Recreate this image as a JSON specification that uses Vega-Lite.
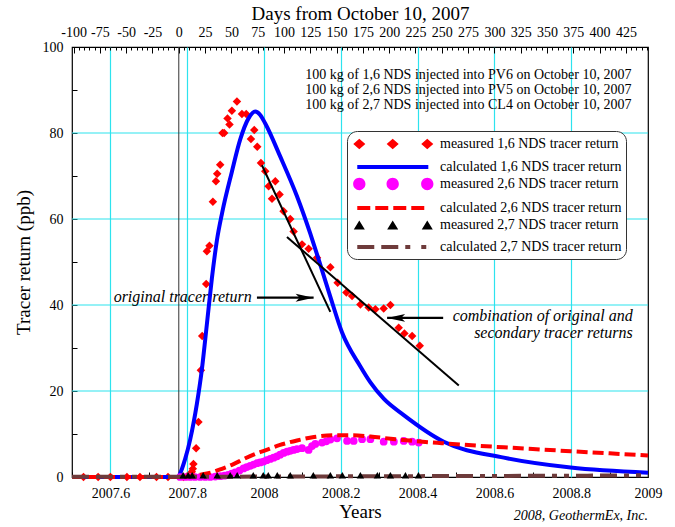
{
  "$schema": "https://vega.github.io/schema/vega-lite/v6.json",
  "width": 576,
  "height": 430,
  "autosize": {"type": "none"},
  "padding": {"left": 72, "top": 47, "right": 27, "bottom": 50},
  "background": "white",
  "config": {
    "font": "Liberation Serif",
    "view": {"stroke": "black", "strokeWidth": 1.2},
    "axis": {
      "labelFont": "Liberation Serif", "titleFont": "Liberation Serif",
      "labelFontSize": 14, "titleFontSize": 19, "titleFontWeight": "normal",
      "labelColor": "black", "titleColor": "black", "tickColor": "black",
      "domain": false, "gridColor": "#2de3ee", "gridWidth": 1.2, "gridOpacity": 1
    }
  },
  "title": {
    "text": "2008, GeothermEx, Inc.", "orient": "bottom", "anchor": "end", "frame": "group",
    "font": "Liberation Serif", "fontStyle": "italic", "fontWeight": "normal", "fontSize": 14,
    "color": "black", "offset": -12
  },
  "datasets": {
    "curves": [
      {"s":"m16","year":2007.53,"value":0},{"s":"m16","year":2007.568,"value":0},{"s":"m16","year":2007.6,"value":0},
      {"s":"m16","year":2007.643,"value":0},{"s":"m16","year":2007.677,"value":0},{"s":"m16","year":2007.72,"value":0},
      {"s":"m16","year":2007.75,"value":0},{"s":"m16","year":2007.79,"value":0},{"s":"m16","year":2007.8,"value":0.2},
      {"s":"m16","year":2007.8077,"value":0.3},{"s":"m16","year":2007.8121,"value":1.2},{"s":"m16","year":2007.8147,"value":1.9},
      {"s":"m16","year":2007.8163,"value":3.0},{"s":"m16","year":2007.8233,"value":6.7},{"s":"m16","year":2007.8293,"value":12.8},
      {"s":"m16","year":2007.8356,"value":24.8},{"s":"m16","year":2007.839,"value":32.8},{"s":"m16","year":2007.8494,"value":44.9},
      {"s":"m16","year":2007.8512,"value":52.5},{"s":"m16","year":2007.858,"value":53.8},{"s":"m16","year":2007.8669,"value":64.0},
      {"s":"m16","year":2007.8748,"value":68.8},{"s":"m16","year":2007.8781,"value":70.5},{"s":"m16","year":2007.8859,"value":72.6},
      {"s":"m16","year":2007.8919,"value":80.0},{"s":"m16","year":2007.8964,"value":80.0},{"s":"m16","year":2007.905,"value":83.4},
      {"s":"m16","year":2007.9102,"value":82.0},{"s":"m16","year":2007.9164,"value":85.2},{"s":"m16","year":2007.9295,"value":87.3},
      {"s":"m16","year":2007.9425,"value":84.4},{"s":"m16","year":2007.9537,"value":84.4},{"s":"m16","year":2007.966,"value":78.6},
      {"s":"m16","year":2007.9746,"value":80.7},{"s":"m16","year":2007.9824,"value":76.8},{"s":"m16","year":2007.9921,"value":73.0},
      {"s":"m16","year":2008.0033,"value":71.1},{"s":"m16","year":2008.012,"value":67.6},{"s":"m16","year":2008.0208,"value":64.7},
      {"s":"m16","year":2008.0294,"value":68.8},{"s":"m16","year":2008.0406,"value":65.7},{"s":"m16","year":2008.051,"value":61.8},
      {"s":"m16","year":2008.0684,"value":60.0},{"s":"m16","year":2008.0771,"value":57.1},{"s":"m16","year":2008.099,"value":54.1},
      {"s":"m16","year":2008.1162,"value":53.1},{"s":"m16","year":2008.1381,"value":51.0},{"s":"m16","year":2008.1728,"value":48.8},
      {"s":"m16","year":2008.1918,"value":45.2},{"s":"m16","year":2008.2145,"value":42.9},{"s":"m16","year":2008.2293,"value":42.1},
      {"s":"m16","year":2008.251,"value":40.1},{"s":"m16","year":2008.2726,"value":39.4},{"s":"m16","year":2008.2901,"value":39.0},
      {"s":"m16","year":2008.3117,"value":39.2},{"s":"m16","year":2008.3292,"value":40.0},{"s":"m16","year":2008.3508,"value":34.7},
      {"s":"m16","year":2008.3657,"value":33.4},{"s":"m16","year":2008.3858,"value":32.8},{"s":"m16","year":2008.4056,"value":30.5},

      {"s":"c16","year":2007.5,"value":0},{"s":"c16","year":2007.777,"value":0},{"s":"c16","year":2007.78,"value":0.5},
      {"s":"c16","year":2007.7947,"value":4.2},{"s":"c16","year":2007.8077,"value":8.7},{"s":"c16","year":2007.8252,"value":17},
      {"s":"c16","year":2007.8382,"value":25},{"s":"c16","year":2007.8512,"value":35.5},{"s":"c16","year":2007.8643,"value":46.2},
      {"s":"c16","year":2007.8773,"value":55},{"s":"c16","year":2007.8911,"value":61.5},{"s":"c16","year":2007.9164,"value":71},
      {"s":"c16","year":2007.9381,"value":78.5},{"s":"c16","year":2007.9597,"value":83.4},{"s":"c16","year":2007.9772,"value":85},
      {"s":"c16","year":2007.9902,"value":84.2},{"s":"c16","year":2008.0033,"value":82.2},{"s":"c16","year":2008.0424,"value":74.5},
      {"s":"c16","year":2008.0859,"value":65.3},{"s":"c16","year":2008.1206,"value":56.6},{"s":"c16","year":2008.1381,"value":51.8},
      {"s":"c16","year":2008.1553,"value":46.9},{"s":"c16","year":2008.1728,"value":41.9},{"s":"c16","year":2008.2033,"value":33.6},
      {"s":"c16","year":2008.251,"value":25.7},{"s":"c16","year":2008.2771,"value":22.0},{"s":"c16","year":2008.3117,"value":18.2},
      {"s":"c16","year":2008.3639,"value":14.4},{"s":"c16","year":2008.4682,"value":8.2},{"s":"c16","year":2008.6246,"value":4.5},
      {"s":"c16","year":2008.7986,"value":2.2},{"s":"c16","year":2009.0,"value":1.0},

      {"s":"m26","year":2007.7816,"value":0},{"s":"m26","year":2007.795,"value":0},{"s":"m26","year":2007.8077,"value":0},
      {"s":"m26","year":2007.82,"value":0},{"s":"m26","year":2007.8338,"value":0},{"s":"m26","year":2007.847,"value":0},
      {"s":"m26","year":2007.8598,"value":0},{"s":"m26","year":2007.873,"value":0.1},{"s":"m26","year":2007.8859,"value":0.2},
      {"s":"m26","year":2007.897,"value":0.3},{"s":"m26","year":2007.9068,"value":0.5},{"s":"m26","year":2007.916,"value":0.8},
      {"s":"m26","year":2007.925,"value":1.1},{"s":"m26","year":2007.936,"value":1.5},{"s":"m26","year":2007.9467,"value":2.0},
      {"s":"m26","year":2007.955,"value":2.3},{"s":"m26","year":2007.9641,"value":2.6},{"s":"m26","year":2007.973,"value":2.9},
      {"s":"m26","year":2007.9816,"value":3.2},{"s":"m26","year":2007.99,"value":3.4},{"s":"m26","year":2007.9988,"value":3.6},
      {"s":"m26","year":2008.007,"value":3.9},{"s":"m26","year":2008.0163,"value":4.2},{"s":"m26","year":2008.025,"value":4.5},
      {"s":"m26","year":2008.0338,"value":4.8},{"s":"m26","year":2008.042,"value":5.2},{"s":"m26","year":2008.051,"value":5.6},
      {"s":"m26","year":2008.06,"value":5.9},{"s":"m26","year":2008.0684,"value":6.1},{"s":"m26","year":2008.077,"value":6.3},
      {"s":"m26","year":2008.0859,"value":6.5},{"s":"m26","year":2008.099,"value":6.7},{"s":"m26","year":2008.1162,"value":6.3},
      {"s":"m26","year":2008.125,"value":7.2},{"s":"m26","year":2008.1336,"value":7.7},{"s":"m26","year":2008.1511,"value":8.0},
      {"s":"m26","year":2008.162,"value":8.3},{"s":"m26","year":2008.1728,"value":8.7},{"s":"m26","year":2008.1902,"value":9.0},
      {"s":"m26","year":2008.2163,"value":8.4},{"s":"m26","year":2008.2335,"value":8.4},{"s":"m26","year":2008.2554,"value":8.8},
      {"s":"m26","year":2008.2771,"value":8.8},{"s":"m26","year":2008.3117,"value":8.2},{"s":"m26","year":2008.3382,"value":8.2},
      {"s":"m26","year":2008.3639,"value":8.4},{"s":"m26","year":2008.3858,"value":8.2},{"s":"m26","year":2008.403,"value":8.0},

      {"s":"c26","year":2007.5,"value":0},{"s":"c26","year":2007.777,"value":0},{"s":"c26","year":2007.8,"value":0.1},
      {"s":"c26","year":2007.83,"value":0.5},{"s":"c26","year":2007.8684,"value":1.2},{"s":"c26","year":2007.89,"value":1.9},
      {"s":"c26","year":2007.9206,"value":3.0},{"s":"c26","year":2007.95,"value":4.3},{"s":"c26","year":2007.9728,"value":5.2},
      {"s":"c26","year":2008.0,"value":6.1},{"s":"c26","year":2008.04,"value":7.4},{"s":"c26","year":2008.0859,"value":8.5},
      {"s":"c26","year":2008.13,"value":9.3},{"s":"c26","year":2008.1813,"value":9.7},{"s":"c26","year":2008.23,"value":9.7},
      {"s":"c26","year":2008.2771,"value":9.4},{"s":"c26","year":2008.33,"value":8.9},{"s":"c26","year":2008.3988,"value":8.3},
      {"s":"c26","year":2008.451,"value":7.95},{"s":"c26","year":2008.52,"value":7.5},{"s":"c26","year":2008.6246,"value":6.9},
      {"s":"c26","year":2008.7,"value":6.5},{"s":"c26","year":2008.7986,"value":6.0},{"s":"c26","year":2008.9,"value":5.5},
      {"s":"c26","year":2009.0,"value":5.0},

      {"s":"m27","year":2007.7894,"value":0.4},{"s":"m27","year":2007.8025,"value":0.4},{"s":"m27","year":2007.8129,"value":0.4},
      {"s":"m27","year":2007.8416,"value":0.4},{"s":"m27","year":2007.8781,"value":0.4},{"s":"m27","year":2007.912,"value":0.4},
      {"s":"m27","year":2007.9302,"value":0.4},{"s":"m27","year":2007.972,"value":0.4},{"s":"m27","year":2007.998,"value":0.4},
      {"s":"m27","year":2008.0111,"value":0.4},{"s":"m27","year":2008.0346,"value":0.4},{"s":"m27","year":2008.0684,"value":0.4},
      {"s":"m27","year":2008.1284,"value":0.4},{"s":"m27","year":2008.1728,"value":0.4},{"s":"m27","year":2008.204,"value":0.4},
      {"s":"m27","year":2008.251,"value":0.4},{"s":"m27","year":2008.2953,"value":0.4},{"s":"m27","year":2008.3292,"value":0.4},
      {"s":"m27","year":2008.3683,"value":0.4},{"s":"m27","year":2008.4022,"value":0.4},

      {"s":"c27","year":2007.5,"value":0.05},{"s":"c27","year":2007.8,"value":0.05},{"s":"c27","year":2008.0,"value":0.1},
      {"s":"c27","year":2008.2,"value":0.15},{"s":"c27","year":2008.4,"value":0.2},{"s":"c27","year":2008.6,"value":0.25},
      {"s":"c27","year":2008.8,"value":0.3},{"s":"c27","year":2009.0,"value":0.4}
    ],
    "segs": [
      {"year": 2007.9946, "value": 72.5, "year2": 2008.1727, "value2": 38.4},
      {"year": 2008.0598, "value": 55.8, "year2": 2008.5073, "value2": 21.3}
    ],
    "arrows": [
      {"dir": "right", "year": 2007.9816, "year2": 2008.1292, "value": 41.7},
      {"dir": "left", "year": 2008.4666, "year2": 2008.3206, "value": 37.0}
    ],
    "notes": [
      {"year": 2008.957, "value": 93.5, "text": "100 kg of 1,6 NDS injected into PV6 on October 10, 2007"},
      {"year": 2008.957, "value": 90.0, "text": "100 kg of 2,6 NDS injected into PV5 on October 10, 2007"},
      {"year": 2008.957, "value": 86.5, "text": "100 kg of 2,7 NDS injected into CL4 on October 10, 2007"}
    ],
    "annots": [
      {"year": 2007.968, "value": 41.8, "text": "original tracer return"},
      {"year": 2008.96, "value": 37.4, "text": "combination of original and"},
      {"year": 2008.96, "value": 33.4, "text": "secondary tracer returns"}
    ],
    "day0": [{"year": 2007.77808}],
    "hgrid": [{"value": 20}, {"value": 40}, {"value": 60}, {"value": 80}]
  },
  "resolve": {"axis": {"x": "independent"}},
  "layer": [
    {
      "data": {"name": "hgrid"},
      "mark": {"type": "rule", "color": "#2de3ee", "strokeWidth": 1.2},
      "encoding": {
        "y": {"field": "value", "type": "quantitative", "scale": {"domain": [0, 100], "nice": false, "zero": false}}
      }
    },
    {
      "data": {"name": "day0"},
      "mark": {"type": "rule", "color": "#333333", "strokeWidth": 1},
      "encoding": {
        "x": {
          "field": "year", "type": "quantitative",
          "scale": {"domain": [2007.5, 2009], "nice": false, "zero": false},
          "axis": {
            "orient": "top", "title": "Days from October 10, 2007", "titleY": -34, "titleBaseline": "middle", "grid": false,
            "values": [2007.50411,2007.51781,2007.53151,2007.54521,2007.5589,2007.5726,2007.5863,2007.6,2007.6137,2007.6274,2007.6411,2007.65479,2007.66849,2007.68219,2007.69589,2007.70959,2007.72329,2007.73699,2007.75068,2007.76438,2007.77808,2007.79178,2007.80548,2007.81918,2007.83288,2007.84658,2007.86027,2007.87397,2007.88767,2007.90137,2007.91507,2007.92877,2007.94247,2007.95616,2007.96986,2007.98356,2007.99726,2008.01096,2008.02466,2008.03836,2008.05205,2008.06575,2008.07945,2008.09315,2008.10685,2008.12055,2008.13425,2008.14795,2008.16164,2008.17534,2008.18904,2008.20274,2008.21644,2008.23014,2008.24384,2008.25753,2008.27123,2008.28493,2008.29863,2008.31233,2008.32603,2008.33973,2008.35342,2008.36712,2008.38082,2008.39452,2008.40822,2008.42192,2008.43562,2008.44931,2008.46301,2008.47671,2008.49041,2008.50411,2008.51781,2008.53151,2008.54521,2008.5589,2008.5726,2008.5863,2008.6,2008.6137,2008.6274,2008.6411,2008.65479,2008.66849,2008.68219,2008.69589,2008.70959,2008.72329,2008.73699,2008.75068,2008.76438,2008.77808,2008.79178,2008.80548,2008.81918,2008.83288,2008.84658,2008.86027,2008.87397,2008.88767,2008.90137,2008.91507,2008.92877,2008.94247,2008.95616,2008.96986,2008.98356,2008.99726],
            "labelExpr": "round((datum.value - 2007.77808) * 365) % 25 == 0 ? toString(round((datum.value - 2007.77808) * 365)) : ''",
            "tickSize": {"condition": {"test": "round((datum.value - 2007.77808) * 365) % 25 == 0", "value": -6}, "value": -3},
            "labelPadding": 14, "labelOverlap": false, "labelFlush": false
          }
        }
      }
    },
    {
      "data": {"name": "curves"},
      "encoding": {
        "x": {
          "field": "year", "type": "quantitative",
          "scale": {"domain": [2007.5, 2009], "nice": false, "zero": false},
          "axis": {
            "orient": "bottom", "title": "Years", "titlePadding": 2, "grid": true,
            "values": [2007.5,2007.6,2007.7,2007.8,2007.9,2008,2008.1,2008.2,2008.3,2008.4,2008.5,2008.6,2008.7,2008.8,2008.9,2009],
            "labelExpr": "round(datum.value*10) % 2 == 0 ? toString(round(datum.value*10)/10) : ''",
            "tickSize": -5,
            "tickOpacity": {"condition": {"test": "round(datum.value*10) % 2 == 0", "value": 0}, "value": 1},
            "gridOpacity": {"condition": {"test": "round(datum.value*10) % 2 != 0 || datum.value < 2007.55 || datum.value > 2008.95", "value": 0}, "value": 1},
            "labelPadding": 14, "labelOverlap": false, "labelFlush": false
          }
        },
        "y": {
          "field": "value", "type": "quantitative",
          "scale": {"domain": [0, 100], "nice": false, "zero": false},
          "axis": {
            "orient": "left", "title": "Tracer return (ppb)", "grid": false,
            "titleX": -49, "titleBaseline": "middle",
            "values": [0,10,20,30,40,50,60,70,80,90,100],
            "labelExpr": "datum.value % 20 == 0 ? toString(datum.value) : ''",
            "tickSize": -5,
            "labelPadding": 14
          }
        }
      },
      "layer": [
        {
          "mark": {"type": "point", "opacity": 0, "filled": true},
          "encoding": {
            "shape": {
              "field": "s", "type": "nominal",
              "scale": {
                "domain": ["m16","c16","m26","c26","m27","c27"],
                "range": [
                  "M-0.96,0L-0.1,-0.75L0.76,0L-0.1,0.75Z M3.81,0L4.67,-0.75L5.53,0L4.67,0.75Z M8.75,0L9.61,-0.75L10.47,0L9.61,0.75Z",
                  "M-0.39,0L9.76,0",
                  "M-0.98,0A0.88,0.88 0 1 1 0.78,0A0.88,0.88 0 1 1 -0.98,0Z M3.79,0A0.88,0.88 0 1 1 5.55,0A0.88,0.88 0 1 1 3.79,0Z M8.73,0A0.88,0.88 0 1 1 10.49,0A0.88,0.88 0 1 1 8.73,0Z",
                  "M-0.39,0L9.76,0",
                  "M-0.89,0.64L-0.1,-0.64L0.69,0.64Z M3.88,0.64L4.67,-0.64L5.46,0.64Z M8.82,0.64L9.61,-0.64L10.4,0.64Z",
                  "M-0.39,0L9.76,0"
                ]
              },
              "legend": {
                "title": null, "orient": "none", "legendX": 275, "legendY": 84, "direction": "vertical",
                "padding": 4, "cornerRadius": 10, "strokeColor": "#333333", "fillColor": "white",
                "symbolSize": 196, "symbolStrokeWidth": 4, "symbolOpacity": 1, "rowPadding": -6,
                "labelLimit": 400, "symbolOffset": 0, "labelOffset": 71,
                "labelFont": "Liberation Serif", "labelFontSize": 14, "labelColor": "black",
                "labelExpr": "datum.value=='m16' ? 'measured 1,6 NDS tracer return' : datum.value=='c16' ? 'calculated 1,6 NDS tracer return' : datum.value=='m26' ? 'measured 2,6 NDS tracer return' : datum.value=='c26' ? 'calculated 2,6 NDS tracer return' : datum.value=='m27' ? 'measured 2,7 NDS tracer return' : 'calculated 2,7 NDS tracer return'"
              }
            },
            "fill": {"field": "s", "type": "nominal", "scale": {"domain": ["m16","c16","m26","c26","m27","c27"], "range": ["#ff0000","transparent","#ff00ff","transparent","#000000","transparent"]}},
            "stroke": {"field": "s", "type": "nominal", "scale": {"domain": ["m16","c16","m26","c26","m27","c27"], "range": ["transparent","#0000ff","transparent","#ff0000","transparent","#6e3b3b"]}},
            "strokeDash": {"field": "s", "type": "nominal", "scale": {"domain": ["m16","c16","m26","c26","m27","c27"], "range": [[1,0],[1,0],[1,0],[13,5],[1,0],[17,7,17,7,5,11,5,2]]}}
          }
        },
        {
          "transform": [{"filter": "datum.s == 'm16'"}],
          "mark": {"type": "point", "shape": "diamond", "filled": true, "size": 72, "opacity": 1, "color": "#ff0000"}
        },
        {
          "transform": [{"filter": "datum.s == 'c16'"}],
          "mark": {"type": "line", "strokeWidth": 4, "interpolate": "monotone", "color": "#0000ff"}
        },
        {
          "transform": [{"filter": "datum.s == 'm26'"}],
          "mark": {"type": "point", "shape": "circle", "filled": true, "size": 60, "opacity": 1, "color": "#ff00ff"}
        },
        {
          "transform": [{"filter": "datum.s == 'c26'"}],
          "mark": {"type": "line", "strokeWidth": 4, "strokeDash": [11, 5], "interpolate": "monotone", "color": "#ff0000"}
        },
        {
          "transform": [{"filter": "datum.s == 'c27'"}],
          "mark": {"type": "line", "strokeWidth": 4, "strokeDash": [17, 7, 17, 7, 5, 7, 5, 7], "interpolate": "monotone", "color": "#6e3b3b"}
        },
        {
          "transform": [{"filter": "datum.s == 'm27'"}],
          "mark": {"type": "point", "shape": "triangle-up", "filled": true, "size": 55, "opacity": 1, "color": "#000000"}
        },
        {
          "data": {"name": "segs"},
          "mark": {"type": "rule", "color": "black", "strokeWidth": 2},
          "encoding": {"x2": {"field": "year2"}, "y2": {"field": "value2"}}
        },
        {
          "data": {"name": "arrows"},
          "mark": {"type": "rule", "color": "black", "strokeWidth": 2.2},
          "encoding": {"x2": {"field": "year2"}}
        },
        {
          "data": {"name": "arrows"},
          "transform": [{"filter": "datum.dir == 'right'"}],
          "mark": {"type": "point", "filled": true, "size": 1296, "opacity": 1, "color": "black", "shape": "M0,0L-1,-0.22L-0.78,0L-1,0.22Z"},
          "encoding": {"x": {"field": "year2", "type": "quantitative"}}
        },
        {
          "data": {"name": "arrows"},
          "transform": [{"filter": "datum.dir == 'left'"}],
          "mark": {"type": "point", "filled": true, "size": 1296, "opacity": 1, "color": "black", "shape": "M0,0L1,-0.22L0.78,0L1,0.22Z"},
          "encoding": {"x": {"field": "year2", "type": "quantitative"}}
        },
        {
          "data": {"name": "notes"},
          "mark": {"type": "text", "align": "right", "baseline": "middle", "font": "Liberation Serif", "fontSize": 14, "color": "black"},
          "encoding": {"text": {"field": "text"}}
        },
        {
          "data": {"name": "annots"},
          "mark": {"type": "text", "align": "right", "baseline": "middle", "font": "Liberation Serif", "fontStyle": "italic", "fontSize": 16, "color": "black"},
          "encoding": {"text": {"field": "text"}}
        }
      ]
    }
  ]
}
